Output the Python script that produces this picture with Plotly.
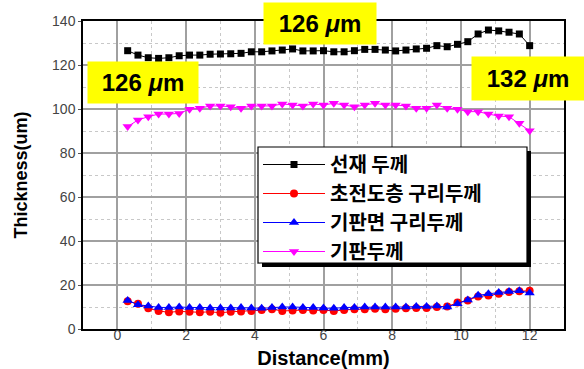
import plotly.graph_objects as go

distance = [round(0.3 * i, 1) for i in range(1, 41)]

wire_thickness = [126.5, 124.5, 123.3, 123.0, 123.3, 124.2, 124.5, 124.5, 124.9, 125.0,
                  125.1, 125.3, 126.0, 126.0, 126.4, 126.8, 127.3, 126.4, 126.4, 126.5,
                  126.0, 126.0, 126.5, 127.1, 127.1, 126.8, 126.4, 126.8, 127.3, 127.6,
                  128.8, 128.3, 129.4, 130.6, 134.1, 135.9, 135.5, 134.9, 134.1, 128.8]

sc_copper = [12.6, 11.5, 9.4, 8.2, 7.6, 8.0, 7.8, 7.6, 7.8, 7.4,
             7.8, 8.0, 8.2, 8.6, 9.0, 8.2, 8.4, 8.6, 8.4, 8.6,
             8.2, 8.6, 9.0, 9.0, 9.2, 9.0, 9.2, 9.4, 9.6, 9.6,
             10.0, 10.2, 12.0, 13.0, 14.8, 15.2, 16.0, 16.8, 17.2, 17.4]

sub_copper = [13.0, 11.0, 10.5, 9.8, 9.8, 10.0, 9.8, 9.8, 9.6, 9.6,
              9.6, 9.8, 9.6, 9.4, 9.8, 10.0, 10.0, 9.8, 9.8, 9.6,
              9.4, 9.8, 9.8, 10.0, 10.0, 10.0, 10.0, 10.0, 10.2, 10.2,
              10.4, 10.0, 11.5, 13.2, 15.3, 16.0, 16.6, 17.0, 17.4, 16.4]

substrate = [92.0, 95.0, 96.5, 97.7, 97.7, 98.0, 99.9, 100.3, 101.4, 101.4,
             101.0, 100.3, 101.4, 101.4, 101.4, 102.3, 101.8, 101.4, 102.3, 101.8,
             102.6, 101.8, 101.0, 101.8, 102.6, 101.8, 101.8, 101.4, 100.3, 100.3,
             101.8, 100.3, 99.9, 98.8, 98.8, 97.7, 96.8, 96.5, 93.5, 90.1]

series_names = ["선재 두께", "초전도층 구리두께", "기판면 구리두께", "기판두께"]
series_values = [wire_thickness, sc_copper, sub_copper, substrate]
series_colors = ["#000000", "#ff0000", "#0000ff", "#ff00ff"]
series_symbols = ["square", "circle", "triangle-up", "triangle-down"]
series_sizes = [7, 8, 9, 9]

label_texts = ["126 <i>μ</i>m", "126 <i>μ</i>m", "132 <i>μ</i>m"]

fig = go.Figure()
for name, vals, col, sym, sz in zip(series_names, series_values, series_colors,
                                     series_symbols, series_sizes):
    fig.add_trace(go.Scatter(
        x=distance, y=vals, name=name, mode="lines+markers",
        line=dict(color=col, width=1),
        marker=dict(symbol=sym, color=col, size=sz),
    ))

L, R, T, B = 83, 20, 21, 40
W, H = 584, 369
pw, ph = W - L - R, H - T - B

def px(x):
    return (x - L) / pw

def py(y):
    return (H - B - y) / ph

# yellow label boxes
boxes = [(143, 82.5, 108, 39), (320, 24, 110, 39), (528, 78.5, 110, 41)]
for txt, (cx, cy, bw, bh) in zip(label_texts, boxes):
    fig.add_annotation(
        x=px(cx), y=py(cy), xref="paper", yref="paper", text=f"<b>{txt}</b>",
        showarrow=False, bgcolor="#ffff00", width=bw, height=bh,
        font=dict(family="Liberation Sans, Arial", size=24, color="#000000"),
        xanchor="center", yanchor="middle",
    )

# legend shadow and frame
fig.add_shape(type="rect", xref="paper", yref="paper",
              x0=px(262), x1=px(531), y0=py(267), y1=py(151),
              fillcolor="#000000", line=dict(width=0), layer="above")
fig.add_shape(type="rect", xref="paper", yref="paper",
              x0=px(258), x1=px(527), y0=py(263), y1=py(147),
              fillcolor="#ffffff", line=dict(color="#000000", width=1.2), layer="above")

axis_common = dict(
    showline=True, mirror=True, linecolor="#000000", linewidth=1.5,
    showgrid=True, gridcolor="#a0a0a0", gridwidth=1.5,
    zeroline=False,
    tickfont=dict(family="Liberation Sans, Arial", size=14, color="#444444"),
)

fig.update_xaxes(
    range=[-1, 13], tick0=0, dtick=2, ticks="", ticklabelstandoff=-8,
    minor=dict(dtick=1, tick0=0, showgrid=True, gridcolor="#c8c8c8", griddash="dot", gridwidth=1),
    title=dict(text="<b>Distance(mm)</b>", standoff=14,
               font=dict(family="Liberation Sans, Arial", size=20, color="#000000")),
    **axis_common,
)
fig.update_yaxes(
    range=[0, 140], tick0=0, dtick=20, ticks="outside", ticklen=3, tickcolor="#555555",
    minor=dict(dtick=10, tick0=0, showgrid=True, gridcolor="#c8c8c8", griddash="dot", gridwidth=1),
    title=dict(text="<b>Thickness(um)</b>", standoff=20,
               font=dict(family="Liberation Sans, Arial", size=18, color="#000000")),
    **axis_common,
)

fig.update_layout(
    width=W, height=H,
    margin=dict(l=L, r=R, t=T, b=B, autoexpand=False),
    paper_bgcolor="#ffffff", plot_bgcolor="#ffffff",
    showlegend=True,
    legend=dict(
        x=px(258), y=py(145), xanchor="left", yanchor="top",
        bgcolor="rgba(0,0,0,0)", borderwidth=0,
        font=dict(family="Noto Sans CJK KR", size=20, color="#000000", weight="bold"),
        itemwidth=62, tracegroupgap=0,
    ),
)

fig.write_html("out.html", config={"displayModeBar": False},
               post_script="document.body.style.margin='0';")
